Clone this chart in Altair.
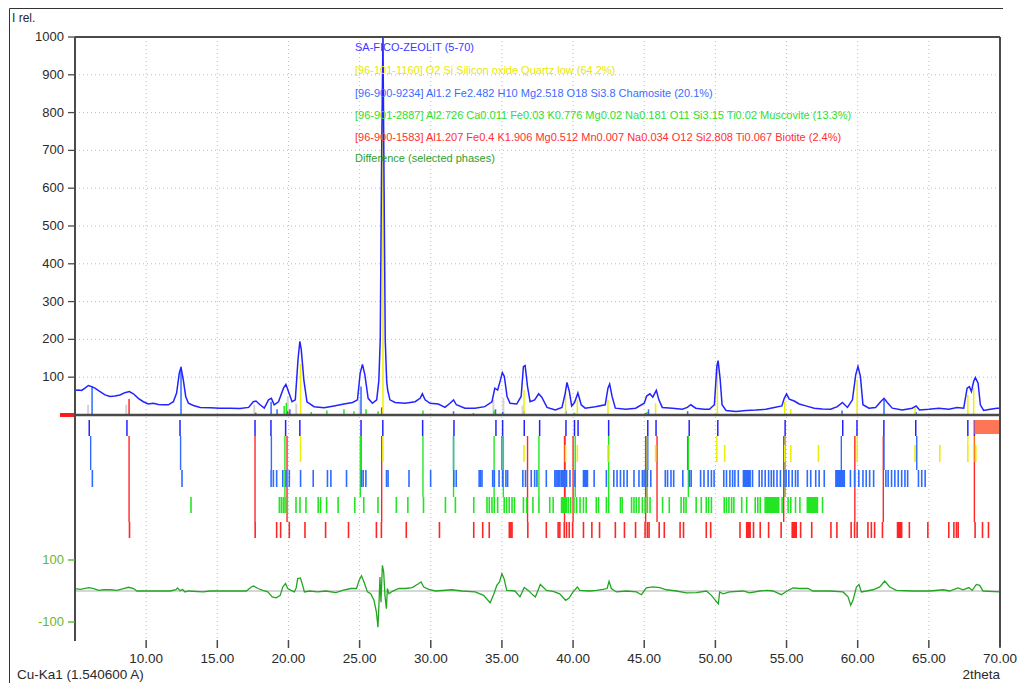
import altair as alt
import pandas as pd

# ---------------- data ----------------
obs_2theta = [5.0, 5.23, 5.47, 5.7, 5.94, 6.17, 6.4, 6.76, 7.11, 7.46, 7.81, 8.16, 8.5, 8.82, 9.1, 9.45, 9.8,
              10.15, 10.5, 10.86, 11.2, 11.56, 11.91, 12.14, 12.33, 12.45, 12.61, 12.78, 12.97, 13.32, 13.8,
              14.5, 15.2, 15.9, 16.6, 17.2, 17.53, 17.72, 18.0, 18.3, 18.6, 18.8, 19.0, 19.3, 19.65, 19.82,
              20.0, 20.25, 20.48, 20.67, 20.8, 20.9, 21.08, 21.3, 21.8, 22.5, 23.2, 23.9, 24.5, 24.85, 25.04,
              25.2, 25.37, 25.6, 25.9, 26.2, 26.35, 26.45, 26.55, 26.64, 26.72, 26.8, 26.9, 26.97, 27.13,
              27.49, 28.2, 28.9, 29.25, 29.41, 29.6, 29.95, 30.53, 31.0, 31.35, 31.6, 31.8, 32.4, 33.1, 33.8,
              34.3, 34.5, 34.7, 34.87, 35.03, 35.17, 35.36, 35.57, 36.04, 36.35, 36.51, 36.63, 36.8, 36.98,
              37.3, 37.58, 37.8, 38.17, 38.75, 39.22, 39.45, 39.57, 39.74, 39.9, 40.1, 40.34, 40.57, 40.85,
              41.56, 42.26, 42.45, 42.57, 42.74, 42.97, 43.7, 44.4, 45.0, 45.17, 45.4, 45.6, 45.85, 46.03,
              46.27, 46.97, 47.68, 48.03, 48.27, 48.62, 49.2, 49.58, 49.93, 50.1, 50.19, 50.33, 50.47, 50.75,
              51.45, 52.15, 52.85, 53.55, 54.14, 54.67, 54.84, 55.0, 55.19, 55.54, 55.89, 56.36, 56.94, 57.52,
              58.1, 58.57, 58.93, 59.28, 59.63, 59.86, 60.02, 60.19, 60.37, 60.79, 61.26, 61.61, 61.85, 62.08,
              62.43, 63.13, 63.83, 64.11, 64.35, 65.0, 65.7, 66.4, 66.99, 67.45, 67.69, 67.85, 67.99, 68.15,
              68.27, 68.46, 68.62, 68.85, 69.32, 69.79, 70.0]
obs_int = [65, 66, 65, 71, 78, 75, 71, 62, 53, 49, 50, 53, 59, 62, 56, 44, 35,
           29, 31, 28, 27, 27, 35, 58, 111, 126, 93, 49, 31, 25, 20,
           19, 18, 18, 17, 20, 35, 37, 27, 18, 40, 44, 27, 35, 71, 81,
           62, 35, 40, 146, 195, 173, 93, 35, 22, 19, 24, 29, 33, 40, 111,
           134, 106, 44, 31, 40, 90, 200, 700, 1000, 600, 200, 90, 66, 40,
           33, 31, 35, 44, 56, 40, 31, 29, 20, 31, 40, 27, 18, 18, 22,
           35, 71, 66, 89, 112, 102, 49, 31, 29, 49, 128, 131, 75, 35,
           40, 56, 47, 20, 13, 20, 58, 86, 62, 24, 33, 58, 27, 18,
           22, 27, 71, 82, 49, 18, 15, 18, 31, 50, 56, 47, 65, 40,
           20, 18, 15, 20, 27, 18, 15, 15, 27, 128, 144, 97, 27, 12,
           9, 12, 13, 15, 20, 24, 44, 56, 42, 37, 29, 24, 18, 16,
           15, 22, 33, 20, 40, 106, 128, 102, 27, 18, 20, 35, 44, 33,
           18, 13, 18, 24, 13, 15, 18, 15, 20, 18, 71, 75, 62, 89,
           99, 84, 27, 12, 15, 18, 18]

diff_2theta = [5.0, 5.38, 5.97, 6.32, 6.67, 7.02, 7.48, 7.95, 8.41, 8.76, 9.11, 9.35, 11.68, 12.1, 12.21, 12.38,
               12.56, 12.73, 12.96, 14.0, 14.48, 17.04, 17.39, 17.55, 17.86, 18.2, 18.55, 18.86, 19.14, 19.42,
               19.6, 19.79, 19.95, 20.19, 20.42, 20.54, 20.65, 20.84, 21.0, 21.12, 21.47, 22.05, 22.63, 23.33,
               23.8, 24.38, 24.78, 24.97, 25.13, 25.31, 25.55, 25.78, 26.01, 26.18, 26.29, 26.36, 26.43, 26.5,
               26.6, 26.69, 26.78, 26.88, 26.95, 27.06, 27.3, 27.76, 28.23, 28.7, 29.16, 29.32, 29.51, 29.86,
               30.33, 31.49, 32.19, 33.12, 33.71, 34.17, 34.4, 34.64, 34.83, 35.0, 35.15, 35.34, 35.92, 36.27,
               36.57, 36.85, 37.2, 37.35, 37.7, 38.13, 38.6, 39.06, 39.48, 39.72, 40.0, 40.3, 40.47, 41.17,
               41.64, 42.1, 42.39, 42.53, 42.69, 43.04, 43.75, 44.45, 44.8, 45.15, 45.62, 46.09, 46.56, 47.26,
               47.96, 48.67, 49.37, 49.72, 50.07, 50.21, 50.3, 50.54, 51.0, 51.94, 52.41, 53.11, 53.58, 54.05,
               54.64, 55.03, 55.46, 55.92, 56.51, 56.86, 58.03, 58.97, 59.32, 59.51, 59.67, 59.91, 60.09, 60.26,
               60.61, 61.08, 61.55, 61.9, 62.25, 62.72, 63.89, 65.06, 66.0, 66.46, 67.05, 67.4, 67.82, 68.05,
               68.34, 68.57, 68.81, 70.0]
diff_val = [8, 5, 11, 8, 2, 4, 4, 2, 8, 12, 8, 0, 0, 4, 10, 1,
            5, -3, 0, -3, 0, 0, 13, 16, 8, 2, -3, -19, -22, -14,
            13, 24, 8, 2, -3, 10, 40, 42, 18, -3, 0, -3, 0, -5,
            2, 8, 8, 35, 49, 29, -3, -9, -30, -68, -117, -41, 45, -36,
            83, 62, -14, -57, 8, -9, -1, 8, 8, 11, 24, 29, 13, 5,
            0, 4, 0, -3, -14, -38, -14, 18, 29, 56, 40, 2, 0, -19,
            11, 2, -14, -19, 21, 2, -1, -9, -30, -23, -3, 13, 2, 0,
            2, 5, 8, 31, 8, -3, 0, -3, -12, 10, 13, 11, 4, 0,
            -6, -5, 0, -14, -34, -41, -3, -9, -3, 0, -6, 0, 2, 0,
            -12, 0, 10, 8, 8, 0, 0, -3, -19, -46, -30, 13, 21, -3,
            0, 4, 13, 32, 13, 2, 0, 0, 4, 0, 10, 4, 11, 2,
            21, 18, 0, -3]

peak_list = [6.0, 8.65, 12.38, 17.65, 18.77, 19.8, 20.8, 25.1, 26.63, 29.43, 31.63, 34.58, 35.05, 36.57,
             37.65, 39.5, 40.1, 40.35, 42.5, 45.25, 45.83, 48.16, 50.17, 54.9, 58.95, 59.95, 61.84, 64.08,
             67.74, 68.2]

quartz_refl = [20.85, 26.64, 36.55, 39.47, 40.3, 42.45, 45.8, 50.1, 50.65, 54.87, 55.3, 57.24, 59.96, 64.03,
               65.77, 67.74, 68.15, 68.3]
chamosite_refl = [6.22, 12.52, 18.78, 18.94, 19.17, 19.6, 19.83, 20.06, 20.85, 21.74, 22.74, 22.98, 24.08,
                  25.13, 25.25, 25.44, 26.89, 27.0, 28.47, 29.99, 31.62, 31.79, 33.4, 33.5, 33.6, 34.35, 34.47,
                  34.8, 35.05, 35.28, 35.4, 36.47, 36.66, 37.06, 37.3, 37.46, 38.12, 38.72, 38.8, 38.88, 38.97,
                  39.07, 39.17, 39.26, 39.35, 39.43, 39.54, 39.78, 40.13, 40.73, 40.8, 40.87, 40.94, 41.01,
                  41.48, 42.34, 42.86, 43.09, 43.33, 43.57, 43.8, 44.28, 44.63, 44.87, 44.99, 45.22, 45.46,
                  46.48, 46.64, 46.88, 47.07, 47.71, 48.18, 48.3, 48.96, 49.2, 49.49, 49.72, 49.91, 50.59,
                  50.78, 51.02, 51.21, 51.37, 51.61, 51.97, 52.03, 52.08, 52.14, 52.2, 52.26, 52.32, 52.38,
                  52.44, 52.61, 53.08, 53.27, 53.5, 53.74, 53.93, 54.1, 54.33, 54.57, 54.81, 54.97, 55.16,
                  55.4, 55.63, 55.8, 56.46, 56.7, 57.05, 57.29, 57.65, 58.47, 58.53, 58.59, 58.65, 58.71,
                  58.77, 58.83, 58.89, 58.94, 59.0, 59.06, 59.49, 59.78, 60.08, 60.37, 60.6, 60.84, 61.12,
                  61.98, 62.14, 62.38, 62.61, 62.85, 63.09, 63.32, 63.51, 64.27, 64.5, 64.74]
muscovite_refl = [13.15, 19.36, 19.5, 19.64, 19.76, 19.92, 20.53, 20.81, 21.23, 22.09, 22.26, 22.68, 23.49,
                  24.66, 25.29, 26.29, 27.58, 28.39, 29.49, 31.03, 31.73, 33.02, 33.95, 34.11, 34.3, 34.46,
                  34.7, 35.16, 35.33, 35.51, 35.71, 35.88, 36.51, 36.75, 37.18, 37.6, 38.36, 38.6, 39.19,
                  39.25, 39.31, 39.37, 39.43, 39.49, 39.54, 39.66, 39.83, 40.06, 40.25, 40.49, 40.73, 40.92,
                  41.63, 41.79, 42.34, 42.5, 43.33, 43.45, 44.11, 44.28, 44.44, 44.63, 44.87, 45.06, 45.22,
                  45.41, 46.29, 46.76, 47.59, 47.78, 47.94, 48.65, 49.01, 49.36, 49.53, 49.72, 50.62, 50.78,
                  50.95, 51.14, 51.3, 51.85, 52.2, 52.8, 52.98, 53.15, 53.5, 53.56, 53.62, 53.68, 53.74, 53.8,
                  53.86, 53.92, 53.97, 54.03, 54.09, 54.15, 54.21, 54.27, 54.33, 54.39, 54.45, 54.69, 55.11,
                  55.3, 55.63, 55.94, 56.46, 56.52, 56.58, 56.64, 56.7, 56.76, 56.82, 56.88, 56.93, 56.99,
                  57.05, 57.11, 57.17, 57.53]
biotite_refl = [8.83, 17.66, 19.17, 19.45, 20.06, 21.16, 22.61, 24.22, 26.18, 26.53, 28.28, 30.61, 33.02, 33.65,
                34.11, 35.52, 35.58, 35.64, 35.71, 36.82, 38.12, 38.95, 39.07, 39.38, 39.54, 39.73, 39.97,
                40.73, 41.32, 41.86, 42.97, 43.61, 44.39, 45.06, 45.22, 45.34, 46.05, 46.41, 47.52, 47.76,
                49.36, 49.67, 51.73, 52.2, 52.26, 52.32, 52.38, 52.44, 52.68, 53.15, 53.74, 54.62, 55.4,
                55.47, 55.54, 55.61, 55.68, 55.99, 56.77, 58.12, 58.54, 59.54, 59.78, 59.96, 60.72, 60.96,
                61.19, 61.74, 62.8, 62.87, 62.95, 63.02, 63.09, 63.63, 64.93, 66.4, 66.76, 66.94, 67.06,
                68.25, 68.77, 69.19]

quartz_matched = [20.85, 26.64, 50.1, 59.96, 67.74, 68.15]
chamosite_matched = [6.1, 12.42, 18.8, 25.1, 31.6, 35.0, 45.25, 48.05, 58.85, 61.85, 64.15]
muscovite_matched = [19.75, 25.05, 29.45, 31.6, 34.45, 35.1, 37.6, 39.45, 40.15, 42.5, 45.2, 48.1, 54.9]
biotite_matched = [8.8, 17.65, 19.9, 26.55, 36.8, 39.4, 40.0, 45.1, 45.9, 54.8, 59.8, 61.8, 68.2]

quartz_stick_pos = [20.85, 26.64, 36.55, 39.47, 40.3, 42.45, 45.8, 50.14, 54.87, 55.3, 59.96, 64.03, 67.74, 68.15]
quartz_stick_h = [135, 1000, 66, 62, 40, 40, 31, 133, 35, 15, 93, 20, 53, 71]
chamosite_stick_pos = [6.2, 12.45, 18.78, 19.2, 20.1, 25.1, 31.6, 34.55, 35.05, 36.55, 39.5, 45.3, 48.05, 58.9,
                       61.85, 64.1]
chamosite_stick_h = [75, 128, 35, 15, 15, 75, 10, 15, 8, 10, 10, 15, 10, 12, 42, 8]
muscovite_stick_pos = [19.7, 19.85, 21.6, 22.7, 23.9, 24.6, 25.45, 26.3, 29.45, 34.45, 35.1, 40.1, 45.2]
muscovite_stick_h = [24, 32, 8, 12, 15, 10, 15, 10, 12, 12, 6, 6, 8]
biotite_stick_pos = [8.8, 17.7, 19.95, 26.55, 33.0, 45.1]
biotite_stick_h = [42, 6, 10, 20, 5, 5]
peak_stick_pos = [5.92, 8.6, 17.6, 19.95, 20.55, 25.0, 34.4, 35.1, 36.45]
peak_stick_h = [27, 27, 27, 49, 30, 40, 40, 45, 25]

selected_range = [68.2, 70.0]

x_ticks = [10, 15, 20, 25, 30, 35, 40, 45, 50, 55, 60, 65, 70]
y_ticks = [100, 200, 300, 400, 500, 600, 700, 800, 900, 1000]
diff_ticks = [100, -100]
diff_tick_labels = ["100", "-100"]

legend_lines = [
    "SA-FICO-ZEOLIT (5-70)",
    "[96-101-1160] O2 Si Silicon oxide Quartz low (64.2%)",
    "[96-900-9234] Al1.2 Fe2.482 H10 Mg2.518 O18 Si3.8 Chamosite (20.1%)",
    "[96-901-2887] Al2.726 Ca0.011 Fe0.03 K0.776 Mg0.02 Na0.181 O11 Si3.15 Ti0.02 Muscovite (13.3%)",
    "[96-900-1583] Al1.207 Fe0.4 K1.906 Mg0.512 Mn0.007 Na0.034 O12 Si2.808 Ti0.067 Biotite (2.4%)",
    "Difference (selected phases)",
]

# ---------------- layout / style ----------------
W, H = 925, 604          # plot area: page x 75..1000, page y 37..641
OX, OY = 75, 37


def py(page_y):
    return page_y - OY


def px(page_x):
    return page_x - OX


FONT = "Liberation Sans"
C_OBS = "#2323ff"
C_QTZ = "#eeee00"
C_CHA = "#2e6bff"
C_MUS = "#22e622"
C_BIO = "#ff2626"
C_DIFF = "#22a622"
C_GRID = "#bdbdbd"
C_AX = "#4a4a4a"

XS = alt.Scale(domain=[5, 70], nice=False, zero=False)
MAIN = alt.Scale(domain=[-598, 1000], nice=False, zero=False)
DIFF = alt.Scale(domain=[-161.3, 1787.1], nice=False, zero=False)


def X(field="x"):
    return alt.X(f"{field}:Q", scale=XS, axis=None)


layers = []

# vertical grid
layers.append(alt.Chart(pd.DataFrame({"x": x_ticks[:-1]})).mark_rule(
    color=C_GRID, strokeDash=[1, 3], strokeWidth=1).encode(
    x=X(), y=alt.value(0), y2=alt.value(H)))
# horizontal grid (main)
layers.append(alt.Chart(pd.DataFrame({"v": y_ticks[:-1]})).mark_rule(
    color=C_GRID, strokeDash=[1, 3], strokeWidth=1).encode(
    y=alt.Y("v:Q", scale=MAIN, axis=None), x=alt.value(0), x2=alt.value(W)))
# difference zero line
layers.append(alt.Chart(pd.DataFrame({"v": [0]})).mark_rule(
    color="#c8c8c8", strokeWidth=1.5).encode(
    y=alt.Y("v:Q", scale=DIFF, axis=None), x=alt.value(0), x2=alt.value(W)))


def sticks(pos, h, color, width=1.5):
    return alt.Chart(pd.DataFrame({"x": pos, "h": h})).mark_rule(
        color=color, strokeWidth=width, clip=True).encode(
        x=X(), y=alt.Y("h:Q", scale=MAIN, axis=None), y2=alt.datum(0))


layers.append(sticks(peak_stick_pos, peak_stick_h, "#d4d4d4", 2))
layers.append(sticks(chamosite_stick_pos, chamosite_stick_h, C_CHA))
layers.append(sticks(muscovite_stick_pos, muscovite_stick_h, C_MUS))
layers.append(sticks(biotite_stick_pos, biotite_stick_h, C_BIO))
layers.append(sticks(quartz_stick_pos, quartz_stick_h, C_QTZ))

# observed pattern
layers.append(alt.Chart(pd.DataFrame({"x": obs_2theta, "y": obs_int})).mark_line(
    color=C_OBS, strokeWidth=1.5, clip=True).encode(
    x=X(), y=alt.Y("y:Q", scale=MAIN, axis=None)))

# difference curve
layers.append(alt.Chart(pd.DataFrame({"x": diff_2theta, "y": diff_val})).mark_line(
    color=C_DIFF, strokeWidth=1.3).encode(
    x=X(), y=alt.Y("y:Q", scale=DIFF, axis=None)))

# baseline at 0 (main)
layers.append(alt.Chart(pd.DataFrame({"v": [0]})).mark_rule(
    color=C_AX, strokeWidth=2.5).encode(
    y=alt.Y("v:Q", scale=MAIN, axis=None), x=alt.value(0), x2=alt.value(W)))
# red marker left of the zero line
layers.append(alt.Chart(pd.DataFrame({"v": [0]})).mark_rule(
    color="#ff1a1a", strokeWidth=4).encode(
    y=alt.Y("v:Q", scale=MAIN, axis=None), x=alt.value(-15), x2=alt.value(1)))

# peak markers
layers.append(alt.Chart(pd.DataFrame({"x": peak_list})).mark_rule(
    color=C_OBS, strokeWidth=1.5).encode(x=X(), y=alt.value(py(420)), y2=alt.value(py(436))))


def rows(pos, color, top, bottom, width=1.6):
    return alt.Chart(pd.DataFrame({"x": pos})).mark_rule(
        color=color, strokeWidth=width).encode(x=X(), y=alt.value(py(top)), y2=alt.value(py(bottom)))


# connectors from the peak markers to each phase row
layers.append(rows(chamosite_matched, C_CHA, 436, 470, 1.4))
layers.append(rows(muscovite_matched, C_MUS, 436, 497, 1.4))
layers.append(rows(biotite_matched, C_BIO, 436, 522, 1.4))
layers.append(rows(quartz_matched, C_QTZ, 436, 445, 1.4))
# reflection rows
layers.append(rows(quartz_refl, C_QTZ, 445, 462))
layers.append(rows(chamosite_refl, C_CHA, 470, 487))
layers.append(rows(muscovite_refl, C_MUS, 497, 513))
layers.append(rows(biotite_refl, C_BIO, 522, 538))

# selected range block
layers.append(alt.Chart(pd.DataFrame({"a": [selected_range[0]], "b": [selected_range[1]]})).mark_rect(
    color="#ff7656").encode(x=X("a"), x2="b:Q", y=alt.value(py(420)), y2=alt.value(py(434))))

# frame / axes lines
layers.append(alt.Chart(pd.DataFrame({"x": [0]})).mark_rule(color=C_AX, strokeWidth=2).encode(
    x=alt.value(0), y=alt.value(0), y2=alt.value(H)))
layers.append(alt.Chart(pd.DataFrame({"x": [0]})).mark_rule(color=C_AX, strokeWidth=2).encode(
    x=alt.value(0), x2=alt.value(W), y=alt.value(0)))
layers.append(alt.Chart(pd.DataFrame({"x": [0]})).mark_rule(color=C_AX, strokeWidth=2).encode(
    x=alt.value(W), y=alt.value(0), y2=alt.value(py(647))))
layers.append(alt.Chart(pd.DataFrame({"x": [0]})).mark_rule(color="#333333", strokeWidth=1).encode(
    x=alt.value(px(9.5)), y=alt.value(py(8.5)), y2=alt.value(py(700))))
layers.append(alt.Chart(pd.DataFrame({"x": [0]})).mark_rule(color="#333333", strokeWidth=1).encode(
    x=alt.value(px(9.5)), x2=alt.value(px(1003)), y=alt.value(py(8.5))))

# main y axis ticks + labels
layers.append(alt.Chart(pd.DataFrame({"v": y_ticks})).mark_rule(color=C_AX, strokeWidth=1.3).encode(
    y=alt.Y("v:Q", scale=MAIN, axis=None), x=alt.value(-7), x2=alt.value(0)))
layers.append(alt.Chart(pd.DataFrame({"v": y_ticks})).mark_text(
    align="right", baseline="middle", font=FONT, fontSize=13, color="#2a2a2a").encode(
    y=alt.Y("v:Q", scale=MAIN, axis=None), x=alt.value(-11), text=alt.Text("v:Q", format="d")))
# difference axis ticks + labels
layers.append(alt.Chart(pd.DataFrame({"v": diff_ticks})).mark_rule(color="#55b030", strokeWidth=1.3).encode(
    y=alt.Y("v:Q", scale=DIFF, axis=None), x=alt.value(-7), x2=alt.value(0)))
layers.append(alt.Chart(pd.DataFrame({"v": diff_ticks, "t": diff_tick_labels})).mark_text(
    align="right", baseline="middle", font=FONT, fontSize=13, color="#6ab82a").encode(
    y=alt.Y("v:Q", scale=DIFF, axis=None), x=alt.value(-11), text="t:N"))
# x axis ticks + labels
layers.append(alt.Chart(pd.DataFrame({"x": x_ticks})).mark_rule(color=C_AX, strokeWidth=1.5).encode(
    x=X(), y=alt.value(py(640)), y2=alt.value(py(648))))
layers.append(alt.Chart(pd.DataFrame({"x": x_ticks})).mark_text(
    align="center", baseline="middle", font=FONT, fontSize=13.5, color="#2a2a2a").encode(
    x=X(), y=alt.value(py(659)), text=alt.Text("x:Q", format=".2f")))

# axis titles
def label(txt, x, y, align="left", size=12.5, color="#2a2a2a"):
    return alt.Chart(pd.DataFrame({"t": [txt]})).mark_text(
        align=align, baseline="middle", font=FONT, fontSize=size, color=color).encode(
        text="t:N", x=alt.value(px(x)), y=alt.value(py(y)))


layers.append(label("I rel.", 12, 18, size=12))
layers.append(label("Cu-Ka1 (1.540600 A)", 17, 675, size=13.5))
layers.append(label("2theta", 1000, 675, align="right", size=13.5))

# legend
legend_colors = ["#3b3bff", "#e8e800", "#3a6cff", "#30e030", "#ff3030", "#2ea02e"]
legend_y = [48, 71, 94, 116, 138, 159]
for txt, col, yy in zip(legend_lines, legend_colors, legend_y):
    layers.append(label(txt, 355, yy, size=11, color=col))

chart = alt.layer(*layers).resolve_scale(y="independent").properties(
    width=W, height=H,
    autosize=alt.AutoSizeParams(type="none"),
    padding={"left": OX - 8, "top": OY - 8, "right": 20, "bottom": 42},
    background="white",
).configure_view(stroke=None)

chart.save("out.html", embed_options={"renderer": "svg", "actions": False})
